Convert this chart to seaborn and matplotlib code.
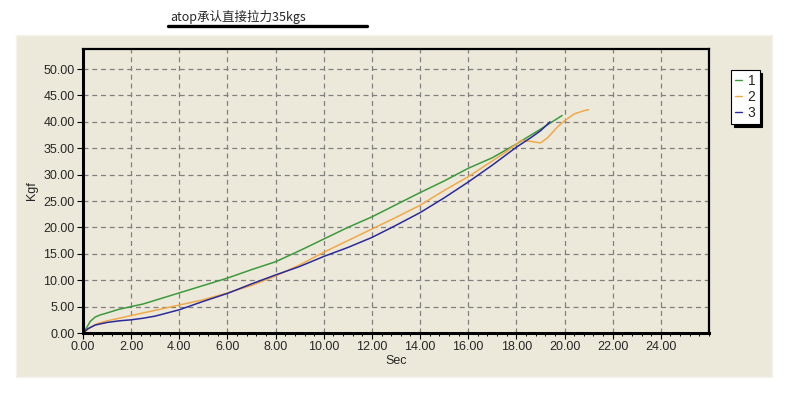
import pandas as pd
import seaborn as sns
import matplotlib.pyplot as plt
from matplotlib.patches import Rectangle
from matplotlib.lines import Line2D
from matplotlib.ticker import MultipleLocator, FormatStrFormatter

# series 1 (green)
sec_1 = [0, 0.15, 0.3, 0.5, 0.7, 1.0, 1.5, 2.0, 2.5, 3.0, 3.5, 4.0, 5.0, 6.0, 7.0,
         8.0, 9.0, 10.0, 11.0, 12.0, 13.0, 14.0, 15.0, 16.0, 17.0, 18.0, 19.0, 19.9]
kgf_1 = [0, 1.0, 2.2, 3.0, 3.4, 3.8, 4.5, 5.0, 5.5, 6.2, 6.9, 7.6, 9.0, 10.4, 12.0,
         13.5, 15.6, 17.8, 20.0, 22.0, 24.3, 26.6, 28.8, 31.2, 33.2, 35.8, 38.6, 41.2]

# series 2 (orange)
sec_2 = [0, 0.3, 0.6, 1.0, 1.5, 2.0, 2.5, 3.0, 4.0, 5.0, 6.0, 7.0, 8.0, 9.0, 10.0,
         11.0, 12.0, 13.0, 14.0, 15.0, 16.0, 17.0, 17.6, 18.2, 18.6, 19.0, 19.3,
         19.7, 20.0, 20.4, 20.8, 21.0]
kgf_2 = [0, 1.0, 1.8, 2.3, 2.8, 3.3, 3.8, 4.3, 5.3, 6.3, 7.6, 9.0, 10.8, 12.9, 15.3,
         17.5, 19.7, 21.9, 24.2, 27.0, 29.6, 32.6, 34.4, 36.5, 36.3, 36.0, 37.0,
         39.0, 40.2, 41.5, 42.1, 42.3]

# series 3 (blue)
sec_3 = [0, 0.2, 0.5, 1.0, 1.5, 2.0, 2.5, 3.0, 3.5, 4.0, 5.0, 6.0, 7.0, 8.0, 9.0,
         10.0, 11.0, 12.0, 13.0, 14.0, 15.0, 16.0, 17.0, 18.0, 18.6, 19.0, 19.4]
kgf_3 = [0, 0.8, 1.5, 2.0, 2.3, 2.5, 2.8, 3.2, 3.8, 4.4, 6.0, 7.5, 9.3, 11.0, 12.6,
         14.5, 16.2, 18.1, 20.4, 22.8, 25.6, 28.6, 31.8, 35.2, 37.0, 38.3, 40.0]

names = ["1", "2", "3"]
colors = ["#3c9a3c", "#f0a848", "#2a2a9a"]

df = pd.concat([
    pd.DataFrame({"Sec": sec_1, "Kgf": kgf_1, "run": "1"}),
    pd.DataFrame({"Sec": sec_2, "Kgf": kgf_2, "run": "2"}),
    pd.DataFrame({"Sec": sec_3, "Kgf": kgf_3, "run": "3"}),
], ignore_index=True)

beige = "#ede9da"

sns.set_theme(style="white")
plt.rcParams["font.family"] = ["Liberation Sans", "DejaVu Sans"]

fig = plt.figure(figsize=(7.9, 4.15), dpi=100)
fig.patch.set_facecolor("white")

# beige panel behind the chart
fig.patches.append(Rectangle((16 / 790, 1 - 377 / 415), (772 - 16) / 790, (377 - 35) / 415,
                             transform=fig.transFigure, facecolor=beige,
                             edgecolor="#f4f2ea", linewidth=1, zorder=-5))

ax = fig.add_axes([83 / 790, 1 - 333 / 415, (709 - 83) / 790, (333 - 49) / 415])
ax.set_facecolor(beige)

sns.lineplot(data=df, x="Sec", y="Kgf", hue="run", palette=colors, sort=False,
             estimator=None, linewidth=1.1, legend=False, ax=ax)

ax.set_xlim(0, 26)
ax.set_ylim(0, 53.8)
ax.xaxis.set_major_locator(MultipleLocator(2))
ax.xaxis.set_minor_locator(MultipleLocator(0.4))
ax.yaxis.set_major_locator(MultipleLocator(5))
ax.xaxis.set_major_formatter(FormatStrFormatter("%.2f"))
ax.yaxis.set_major_formatter(FormatStrFormatter("%.2f"))
ax.set_xticks([t for t in range(0, 26, 2)])
ax.grid(True, which="major", color="#808080", linestyle=(0, (4, 3)), linewidth=0.9)
ax.tick_params(axis="both", which="major", direction="out", length=4, width=0.8,
               color="black", labelsize=9, pad=2, bottom=True, left=True)
ax.tick_params(axis="x", which="minor", direction="out", length=2.5, width=0.7,
               color="black", bottom=True)
for side, spine in ax.spines.items():
    spine.set_visible(True)
    spine.set_color("black")
    spine.set_linewidth(2.2 if side in ("left", "bottom") else 1.6)

ax.set_xlabel("Sec", fontsize=9, labelpad=1)
ax.set_ylabel("Kgf", fontsize=9, labelpad=4)

# legend with a solid drop shadow
handles = [Line2D([], [], color=c, linewidth=1) for c in colors]
leg = fig.legend(handles, names, loc="upper left",
                 bbox_to_anchor=(731 / 790, 1 - 70 / 415), frameon=True,
                 fancybox=False, shadow={"color": "black", "alpha": 1},
                 handlelength=0.5, handletextpad=0.4, borderpad=0.3,
                 labelspacing=0.15, fontsize=10, borderaxespad=0)
leg.get_frame().set_edgecolor("black")
leg.get_frame().set_linewidth(0.8)
leg.get_frame().set_facecolor("white")

# title with thick underline
fig.text(170 / 790, 1 - 17 / 415, "atop承认直接拉力35kgs", fontsize=9,
         family=["Noto Sans CJK SC", "DejaVu Sans"], weight="medium",
         va="center", ha="left")
fig.add_artist(Line2D([168 / 790, 367 / 790], [1 - 26 / 415, 1 - 26 / 415],
                      transform=fig.transFigure, color="black", linewidth=2.4))

fig.savefig("out.png", dpi=100)
